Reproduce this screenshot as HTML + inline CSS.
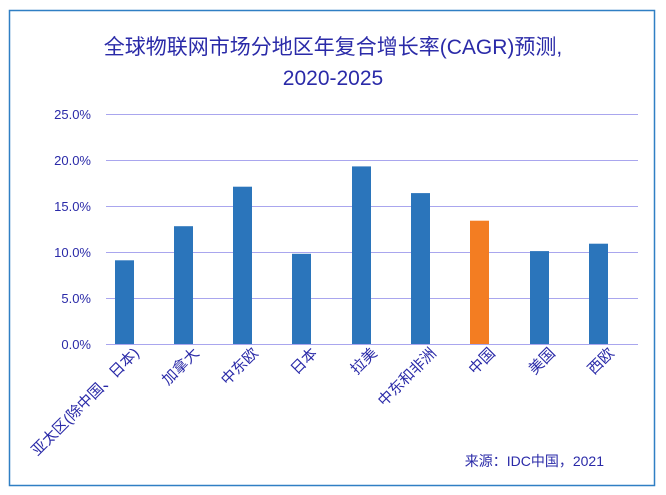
<!DOCTYPE html>
<html><head><meta charset="utf-8"><style>
body{margin:0;background:#fff;}
svg{display:block;}
text{font-family:"Liberation Sans","Noto Sans CJK SC",sans-serif;fill:#2a2aa8;}
</style></head><body>
<svg width="666" height="495" viewBox="0 0 666 495">
<rect x="9.5" y="10.5" width="645" height="475" fill="#fff" stroke="#2f7fc4" stroke-width="1.5"/>
<text x="333" y="54" font-size="21" text-anchor="middle">全球物联网市场分地区年复合增长率(CAGR)预测,</text>
<text x="333" y="85" font-size="21" text-anchor="middle">2020-2025</text>
<g stroke="#a9a6ee" stroke-width="1">
<line x1="106" y1="114.5" x2="638" y2="114.5"/>
<line x1="106" y1="160.5" x2="638" y2="160.5"/>
<line x1="106" y1="206.5" x2="638" y2="206.5"/>
<line x1="106" y1="252.5" x2="638" y2="252.5"/>
<line x1="106" y1="298.5" x2="638" y2="298.5"/>
<line x1="106" y1="344.5" x2="638" y2="344.5"/>
</g>
<g font-size="13" text-anchor="end">
<text x="91" y="119">25.0%</text>
<text x="91" y="165">20.0%</text>
<text x="91" y="211">15.0%</text>
<text x="91" y="257">10.0%</text>
<text x="91" y="303">5.0%</text>
<text x="91" y="349">0.0%</text>
</g>
<g fill="#2b75bb">
<rect x="115" y="260.3" width="19" height="83.7"/>
<rect x="174" y="226.2" width="19" height="117.8"/>
<rect x="233" y="186.7" width="19" height="157.3"/>
<rect x="292" y="253.8" width="19" height="90.2"/>
<rect x="352" y="166.4" width="19" height="177.6"/>
<rect x="411" y="193.1" width="19" height="150.9"/>
<rect x="530" y="251.1" width="19" height="92.9"/>
<rect x="589" y="243.7" width="19" height="100.3"/>
</g>
<rect x="470" y="220.7" width="19" height="123.3" fill="#f37d22"/>
<g font-size="15" text-anchor="end">
<text transform="translate(140,354) rotate(-45)">亚太区(除中国、日本)</text>
<text transform="translate(200,354) rotate(-45)">加拿大</text>
<text transform="translate(259,354) rotate(-45)">中东欧</text>
<text transform="translate(318,354) rotate(-45)">日本</text>
<text transform="translate(378,354) rotate(-45)">拉美</text>
<text transform="translate(437,354) rotate(-45)">中东和非洲</text>
<text transform="translate(496,354) rotate(-45)">中国</text>
<text transform="translate(556,354) rotate(-45)">美国</text>
<text transform="translate(615,354) rotate(-45)">西欧</text>
</g>
<text x="604" y="466" font-size="14" text-anchor="end">来源：IDC中国，2021</text>
</svg>
</body></html>
